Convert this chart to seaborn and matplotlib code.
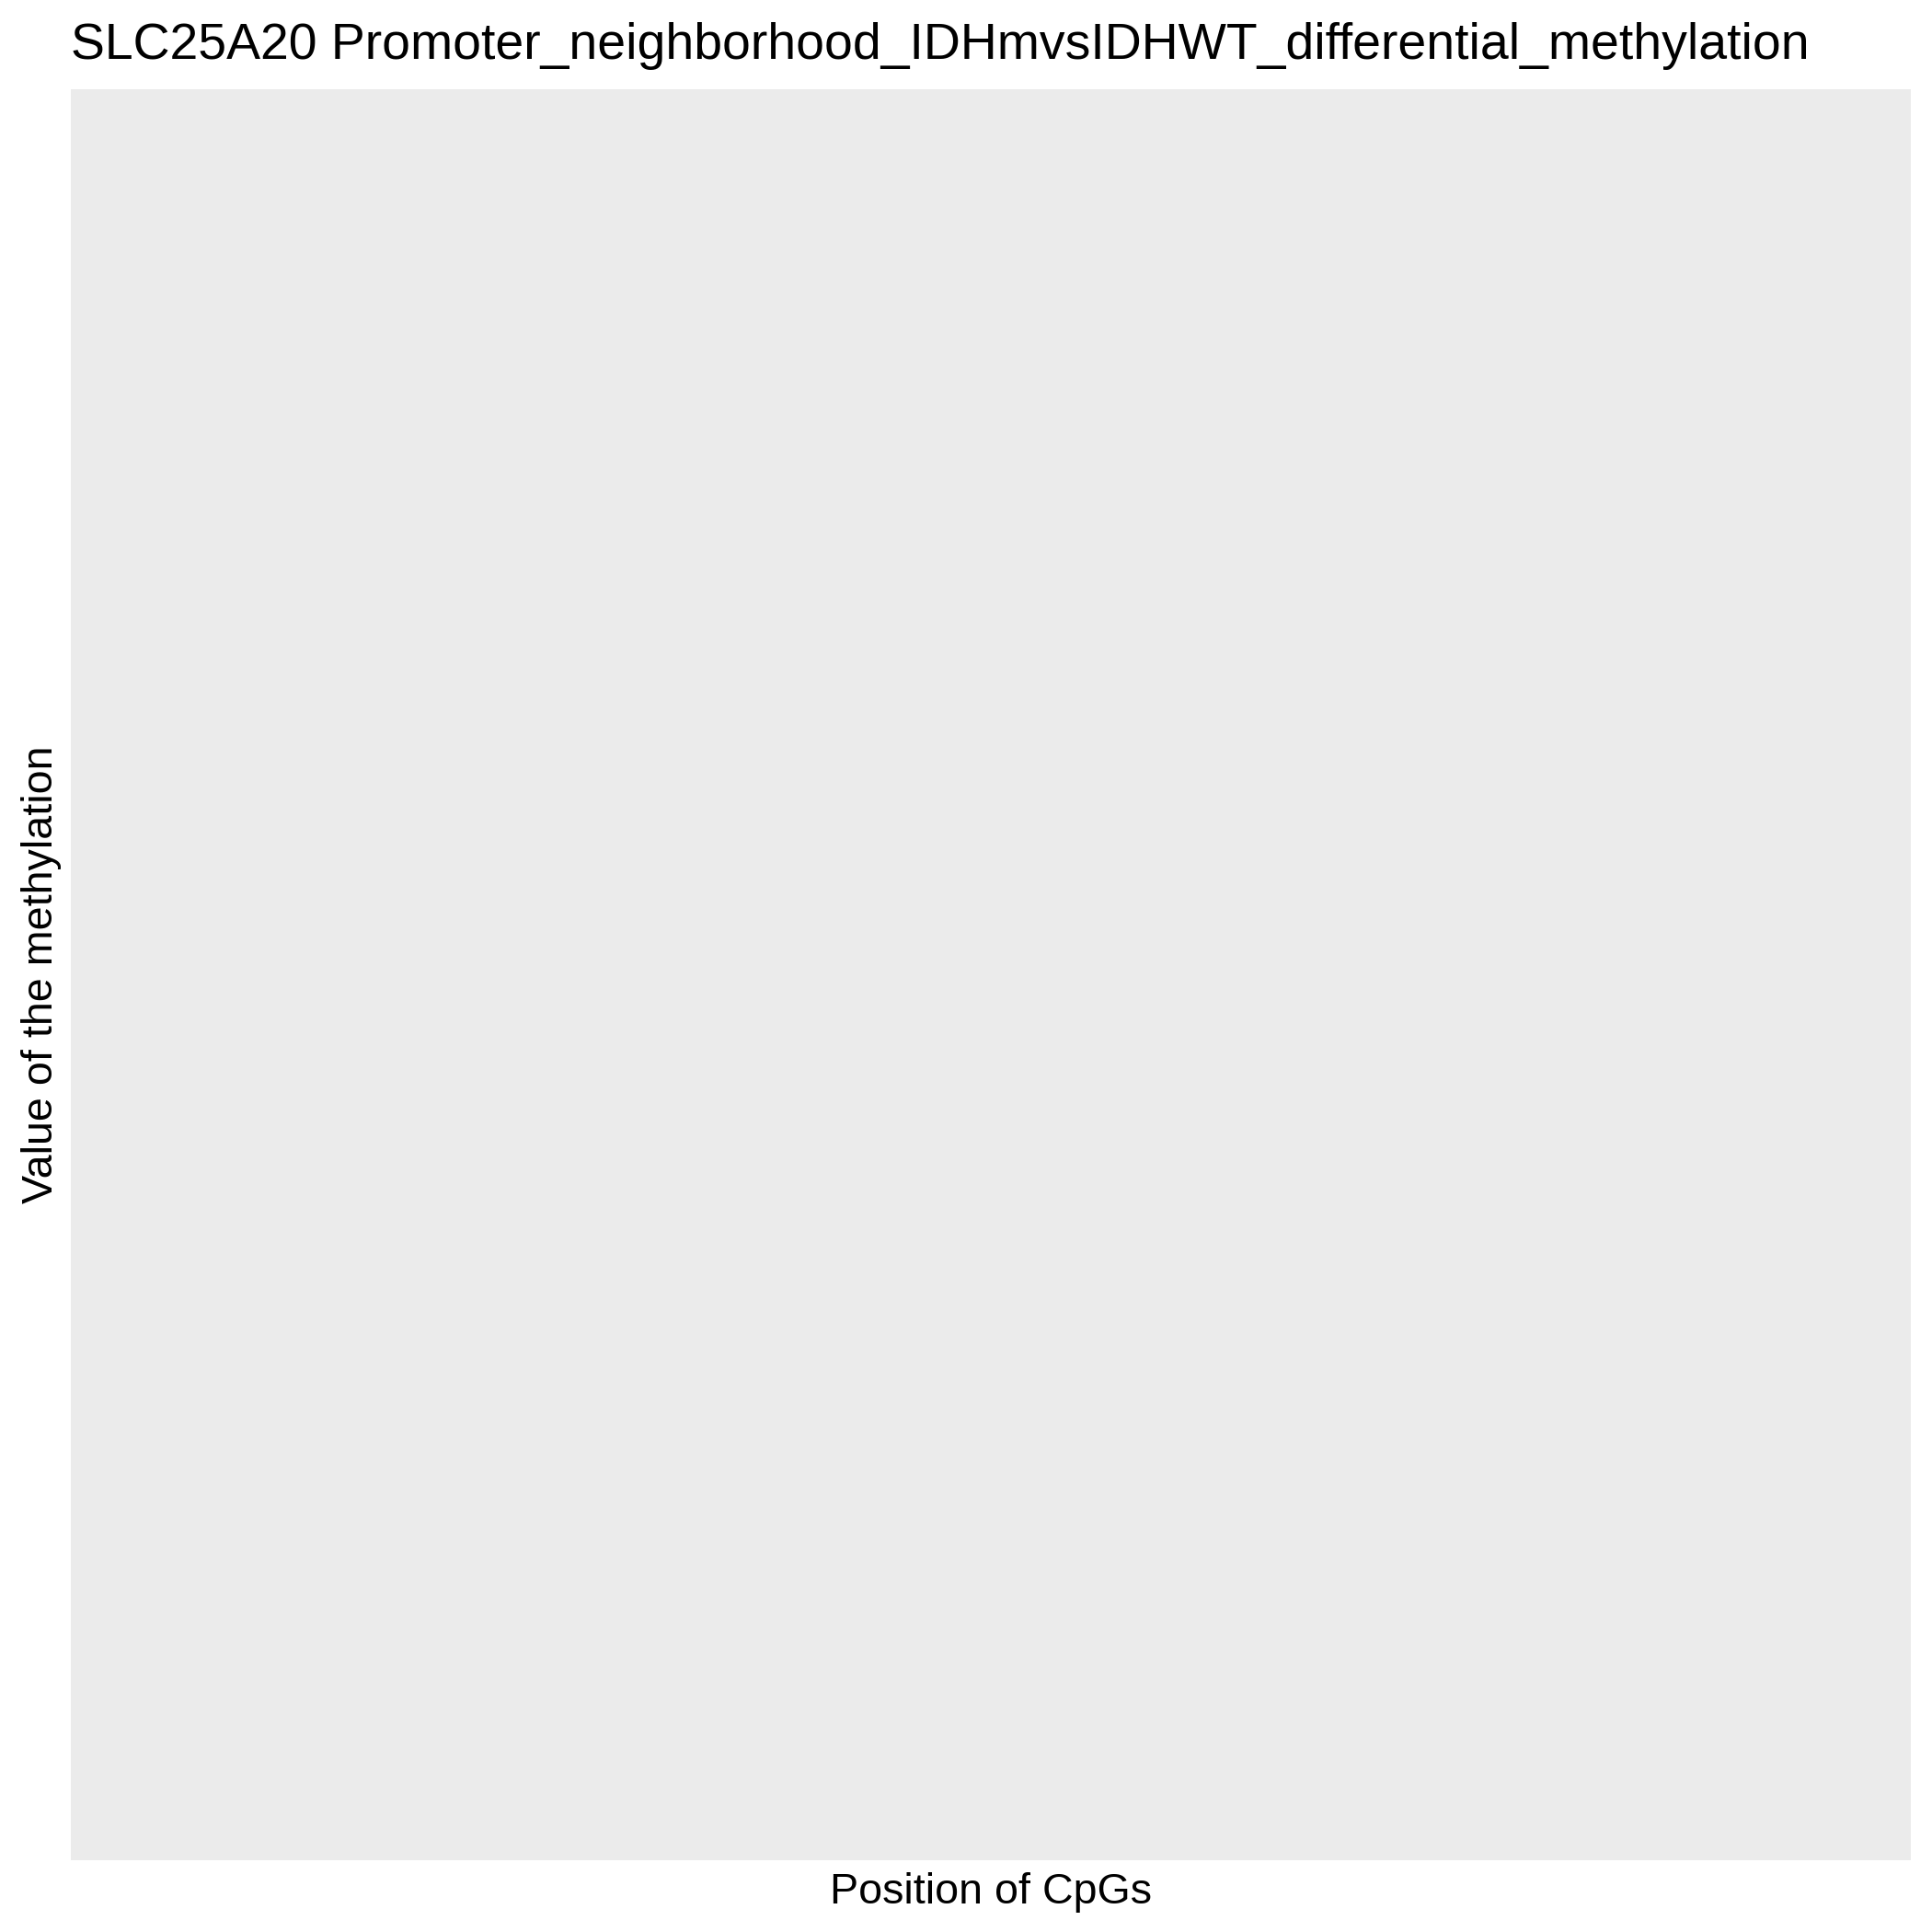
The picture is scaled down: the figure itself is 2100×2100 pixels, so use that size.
import numpy as np
import pandas as pd
import matplotlib
matplotlib.use("Agg")
import matplotlib.pyplot as plt
import seaborn as sns

### DATA (the reference panel is empty: no CpG has a value) ###
cpg_position = []
methylation_value = []
group = []

title = "SLC25A20 Promoter_neighborhood_IDHmvsIDHWT_differential_methylation"
xlabel = "Position of CpGs"
ylabel = "Value of the methylation"

df = pd.DataFrame({"position": cpg_position, "value": methylation_value, "group": group})

sns.set_theme(style="white", rc={"axes.facecolor": "#EBEBEB", "axes.edgecolor": "#EBEBEB"})
plt.rcParams["font.family"] = ["Liberation Sans", "DejaVu Sans"]

W = 2100.0  # pixel size of the figure
fig = plt.figure(figsize=(7, 7), dpi=300)

left, right, top, bottom = 77, 2077, 97, 2022
ax = fig.add_axes([left / W, 1 - bottom / W, (right - left) / W, (bottom - top) / W])
sns.scatterplot(data=df, x="position", y="value", ax=ax, legend=False)

ax.set_xticks([])
ax.set_yticks([])
for s in ax.spines.values():
    s.set_visible(False)

### LABELS ###
ax.set_xlabel(xlabel, fontsize=11.2, color="black", va="baseline", ha="center")
ax.xaxis.set_label_coords((left + right) / 2 / W, 1 - 2069 / W, transform=fig.transFigure)

ax.set_ylabel(ylabel, fontsize=11.2, color="black", va="baseline", ha="center",
              rotation=90, rotation_mode="anchor")
ax.yaxis.set_label_coords(57 / W, 1 - (top + bottom) / 2 / W, transform=fig.transFigure)

fig.text(77 / W, 1 - 64 / W, title, fontsize=13.3, color="black", ha="left", va="baseline")

fig.savefig("out.png", dpi=300)
